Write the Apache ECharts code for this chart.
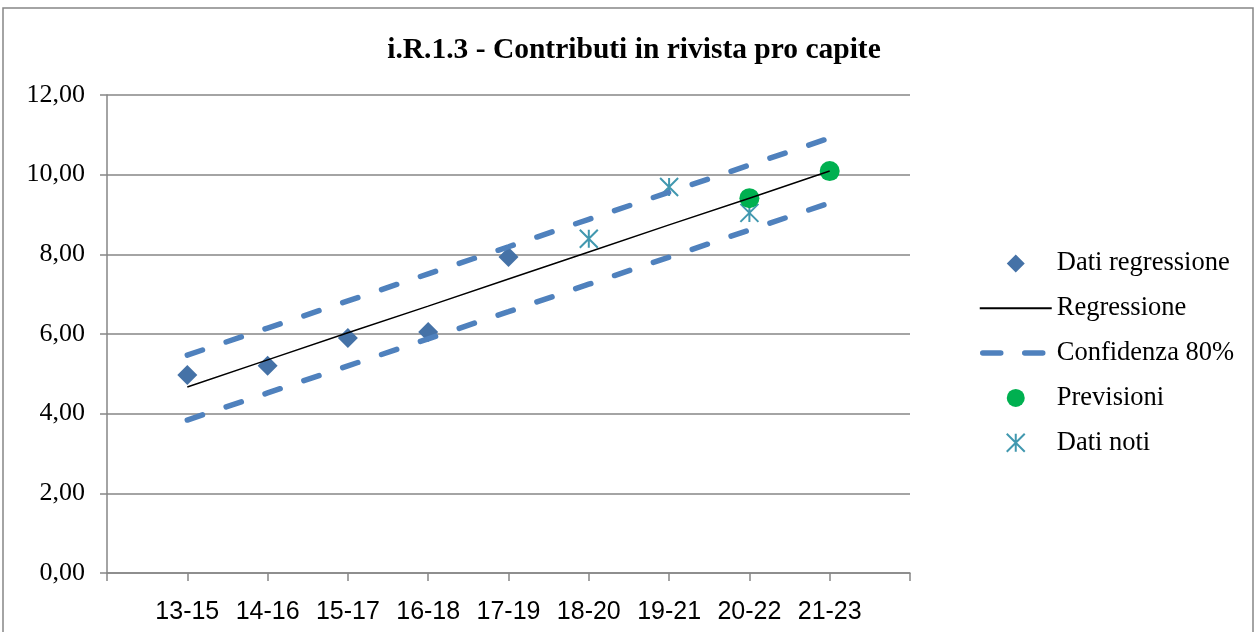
<!DOCTYPE html>
<html>
<head>
<meta charset="utf-8">
<script src="https://cdn.jsdelivr.net/npm/echarts@6/dist/echarts.min.js"></script>
<style>
  html, body { margin: 0; padding: 0; background: #fff; }
  #chart { width: 1259px; height: 632px; }
</style>
</head>
<body>
<div id="chart"></div>
<script>
'use strict';

// periodi (asse x)
var categories = ['13-15', '14-16', '15-17', '16-18', '17-19', '18-20', '19-21', '20-22', '21-23'];

// valori
var datiRegressione = [4.97, 5.20, 5.90, 6.05, 7.93, null, null, null, null];
var regressione = [4.67, 5.35, 6.03, 6.70, 7.38, 8.06, 8.74, 9.41, 10.09];
var confSup = [5.47, 6.15, 6.83, 7.51, 8.19, 8.88, 9.56, 10.24, 10.92];
var confInf = [3.84, 4.52, 5.20, 5.88, 6.56, 7.25, 7.93, 8.61, 9.29];
var previsioni = [null, null, null, null, null, null, null, 9.41, 10.09];
var datiNoti = [null, null, null, null, null, 8.39, 9.69, 9.04, null];

// coppie [posizione, valore] per l'asse x numerico (categorie a 1..9)
function toPairs(arr) {
    var out = [];
    for (var i = 0; i < arr.length; i++) {
        if (arr[i] !== null) out.push([i + 1, arr[i]]);
    }
    return out;
}

var serif = '"Liberation Serif", "Times New Roman", serif';
var gray = '#868686';
var asterisk = 'path://M10,0L10,20M0,0L20,20M0,20L20,0';
// rombo per la legenda: i due puntini agli angoli tengono le proporzioni del riquadro
var legendDiamond = 'path://M0,0L0.01,0L0,0.01Z M64,16L63.99,16L64,15.99Z M32,0L40,8L32,16L24,8Z';
var dashLegend = { color: '#4F81BD', width: 5.5, type: [18, 24], cap: 'round', dashOffset: -3 };

var chart = echarts.init(document.getElementById('chart'));

var option = {
    animation: false,
    backgroundColor: '#fff',
    graphic: [{
        type: 'rect',
        shape: { x: 3, y: 8, width: 1250, height: 640 },
        style: { fill: 'none', stroke: gray, lineWidth: 1.5 },
        silent: true
    }],
    title: {
        text: 'i.R.1.3 - Contributi in rivista pro capite',
        left: 629,
        textAlign: 'center',
        top: 30,
        textStyle: { fontFamily: serif, fontWeight: 'bold', fontSize: 29.5, color: '#000' }
    },
    grid: { left: 107, right: 349, top: 95, bottom: 59 },
    legend: {
        orient: 'vertical',
        left: 977,
        top: 250,
        padding: 0,
        itemWidth: 72,
        itemHeight: 18,
        itemGap: 17.8,
        data: [
            { name: 'Dati regressione', icon: legendDiamond },
            { name: 'Regressione', itemStyle: { opacity: 0 } },
            { name: 'Confidenza 80%', itemStyle: { opacity: 0 }, lineStyle: dashLegend },
            { name: 'Previsioni', icon: 'circle' },
            { name: 'Dati noti' }
        ],
        textStyle: { fontFamily: serif, fontSize: 26.5, color: '#000' }
    },
    xAxis: {
        type: 'value',
        min: 0,
        max: 10,
        interval: 1,
        axisLine: { lineStyle: { color: gray, width: 1.5 } },
        axisTick: { show: true, length: 8, lineStyle: { color: gray, width: 1.5 } },
        splitLine: { show: false },
        axisLabel: {
            margin: 27,
            fontFamily: '"Liberation Sans Narrow", "Liberation Sans", Arial, sans-serif',
            fontSize: 25,
            color: '#000',
            formatter: function (v) {
                return categories[v - 1] || '';
            }
        }
    },
    yAxis: {
        type: 'value',
        min: 0,
        max: 12,
        interval: 2,
        axisLine: { show: true, lineStyle: { color: gray, width: 1.5 } },
        axisTick: { show: true, length: 7, lineStyle: { color: gray, width: 1.5 } },
        splitLine: { lineStyle: { color: gray, width: 1.5 } },
        axisLabel: {
            margin: 22,
            fontFamily: serif,
            fontSize: 26,
            color: '#000',
            formatter: function (v) {
                return v.toFixed(2).replace('.', ',');
            }
        }
    },
    series: [{
        name: 'Dati regressione',
        type: 'scatter',
        symbol: 'diamond',
        symbolSize: 20,
        itemStyle: { color: '#4572A7', opacity: 1 },
        data: toPairs(datiRegressione)
    }, {
        name: 'Regressione',
        type: 'line',
        symbol: 'none',
        lineStyle: { color: '#000', width: 1.5 },
        itemStyle: { color: '#000' },
        data: toPairs(regressione)
    }, {
        name: 'Confidenza 80%',
        type: 'line',
        symbol: 'none',
        lineStyle: { color: '#4F81BD', width: 5.5, type: [16, 25], cap: 'round' },
        itemStyle: { color: '#4F81BD' },
        data: toPairs(confSup)
    }, {
        name: 'Confidenza 80%',
        type: 'line',
        symbol: 'none',
        lineStyle: { color: '#4F81BD', width: 5.5, type: [16, 25], cap: 'round' },
        itemStyle: { color: '#4F81BD' },
        data: toPairs(confInf)
    }, {
        name: 'Dati noti',
        type: 'scatter',
        symbol: asterisk,
        symbolSize: 18,
        itemStyle: { color: 'transparent', borderColor: '#4198AF', borderWidth: 2, opacity: 1 },
        data: toPairs(datiNoti)
    }, {
        name: 'Previsioni',
        type: 'scatter',
        symbol: 'circle',
        symbolSize: 20,
        itemStyle: { color: '#00B050', opacity: 1 },
        data: toPairs(previsioni)
    }]
};

chart.setOption(option);
</script>
</body>
</html>
